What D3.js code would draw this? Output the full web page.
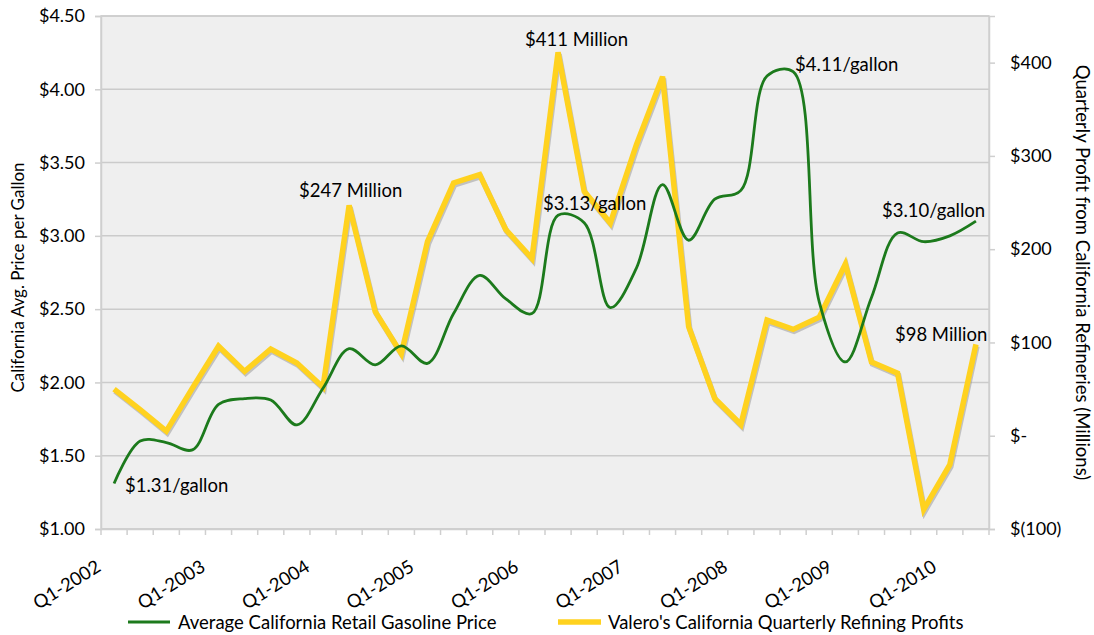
<!DOCTYPE html>
<html>
<head>
<meta charset="utf-8">
<script src="https://cdn.jsdelivr.net/npm/d3@7"></script>
<style>
  body { margin: 0; background: #fff; }
  text { font-family: Lato, "Open Sans", sans-serif; fill: #000; }
</style>
</head>
<body>
<svg id="chart" width="1094" height="635"></svg>
<script>
// quarterly categories
const quarters = [
  "Q1-2002","Q2-2002","Q3-2002","Q4-2002",
  "Q1-2003","Q2-2003","Q3-2003","Q4-2003",
  "Q1-2004","Q2-2004","Q3-2004","Q4-2004",
  "Q1-2005","Q2-2005","Q3-2005","Q4-2005",
  "Q1-2006","Q2-2006","Q3-2006","Q4-2006",
  "Q1-2007","Q2-2007","Q3-2007","Q4-2007",
  "Q1-2008","Q2-2008","Q3-2008","Q4-2008",
  "Q1-2009","Q2-2009","Q3-2009","Q4-2009",
  "Q1-2010","Q2-2010"
];

// average CA retail gasoline price ($/gal)
const gasPrice = [
  1.31, 1.60, 1.59, 1.54,
  1.85, 1.89, 1.88, 1.71,
  1.96, 2.23, 2.12, 2.25,
  2.13, 2.47, 2.73, 2.57,
  2.47, 3.14, 3.09, 2.51,
  2.78, 3.35, 2.97, 3.25,
  3.31, 4.09, 4.12, 2.55,
  2.14, 2.58, 3.02, 2.96,
  3.00, 3.10
];

// Valero CA quarterly refining profits ($ millions)
const valeroProfit = [
  50, 28, 5, 51,
  96, 69, 93, 78,
  52, 247, 133, 88,
  208, 271, 280, 221,
  190, 411, 262, 228,
  312, 385, 117, 40,
  12, 124, 114, 127,
  184, 79, 67, -79,
  -31, 98
];

const leftTicks = [1.0, 1.5, 2.0, 2.5, 3.0, 3.5, 4.0, 4.5];
const rightTicks = [-100, 0, 100, 200, 300, 400];
const xLabelEvery = 4;

const callouts = [
  { text: "$1.31/gallon", series: "gas", i: 0, dx: 11, dy: 8 },
  { text: "$247 Million", series: "profit", i: 9, dx: -50, dy: -8 },
  { text: "$411 Million", series: "profit", i: 17, dx: -33, dy: -6 },
  { text: "$3.13/gallon", series: "gas", i: 17, dx: -15, dy: -5 },
  { text: "$4.11/gallon", series: "gas", i: 26, dx: 2, dy: -1 },
  { text: "$3.10/gallon", series: "gas", i: 33, dx: -94, dy: -4 },
  { text: "$98 Million", series: "profit", i: 33, dx: -81, dy: -3 }
];

const svg = d3.select("#chart");
const plot = { left: 101, right: 989, top: 16, bottom: 529 };
const fs = 18.5;

const x = d3.scaleBand().domain(quarters).range([plot.left, plot.right]).padding(0);
const cx = q => x(q) + x.bandwidth() / 2;
const yL = d3.scaleLinear().domain([1, 4.5]).range([plot.bottom, plot.top]);
const yR = d3.scaleLinear().domain([-100, 450]).range([plot.bottom, plot.top]);

// plot background
svg.append("rect")
  .attr("x", plot.left).attr("y", plot.top)
  .attr("width", plot.right - plot.left).attr("height", plot.bottom - plot.top)
  .attr("fill", "#efefef").attr("stroke", "#d2d2d2").attr("stroke-width", 1.5);

// gridlines
svg.append("g").selectAll("line").data(leftTicks).join("line")
  .attr("x1", plot.left).attr("x2", plot.right)
  .attr("y1", d => yL(d)).attr("y2", d => yL(d))
  .attr("stroke", "#cbcbcb").attr("stroke-width", 1.5);

// left axis
const leftAxis = svg.append("g")
  .attr("transform", `translate(${plot.left},0)`)
  .call(d3.axisLeft(yL).tickValues(leftTicks).tickFormat(d => "$" + d.toFixed(2)).tickSize(6).tickPadding(10));
leftAxis.selectAll("text").attr("font-size", 18);

// right axis
const fmtRight = d => d === 0 ? "$-" : d < 0 ? "$(" + Math.abs(d) + ")" : "$" + d;
const rightAxis = svg.append("g")
  .attr("transform", `translate(${plot.right},0)`)
  .call(d3.axisRight(yR).tickValues(rightTicks).tickFormat(fmtRight).tickSize(6).tickPadding(15));
rightAxis.selectAll("text").attr("font-size", 18);

// bottom axis: ticks at category boundaries
const bottomAxis = svg.append("g")
  .attr("transform", `translate(0,${plot.bottom})`)
  .call(d3.axisBottom(x).tickSize(0).tickFormat(""));
bottomAxis.append("g").selectAll("line")
  .data(quarters.concat(["end"])).join("line")
  .attr("x1", (d, i) => plot.left + i * x.bandwidth())
  .attr("x2", (d, i) => plot.left + i * x.bandwidth())
  .attr("y1", 0).attr("y2", 6);
[leftAxis, rightAxis, bottomAxis].forEach(g => {
  g.selectAll(".domain").attr("stroke", "#cfcfcf").attr("stroke-width", 1.5);
  g.selectAll("line").attr("stroke", "#cfcfcf").attr("stroke-width", 1.5);
});

svg.append("g").selectAll("text")
  .data(quarters.filter((q, i) => i % xLabelEvery === 0)).join("text")
  .attr("transform", q => `translate(${cx(q) - 12},${plot.bottom + 41}) rotate(-32)`)
  .attr("text-anchor", "end")
  .attr("font-size", fs)
  .text(q => q);

// axis titles
svg.append("text")
  .attr("transform", `translate(24,${(plot.top + plot.bottom) / 2 + 5}) rotate(-90)`)
  .attr("text-anchor", "middle").attr("font-size", 17)
  .text("California Avg. Price per Gallon");
svg.append("text")
  .attr("transform", `translate(1076,${(plot.top + plot.bottom) / 2}) rotate(90)`)
  .attr("text-anchor", "middle").attr("font-size", fs)
  .text("Quarterly Profit from California Refineries (Millions)");

// Valero profits: straight line with a soft shadow
const profitLine = d3.line().x((d, i) => cx(quarters[i])).y(d => yR(d));
svg.append("path").datum(valeroProfit)
  .attr("d", profitLine)
  .attr("transform", "translate(1,2)")
  .attr("fill", "none").attr("stroke", "#9a9a9a").attr("stroke-opacity", 0.55)
  .attr("stroke-width", 5.5).attr("stroke-linejoin", "miter");
svg.append("path").datum(valeroProfit)
  .attr("d", profitLine)
  .attr("fill", "none").attr("stroke", "#ffd21f")
  .attr("stroke-width", 5.5).attr("stroke-linejoin", "miter");

// gas price: smoothed line
const gasLine = d3.line().x((d, i) => cx(quarters[i])).y(d => yL(d)).curve(d3.curveCatmullRom.alpha(0.5));
svg.append("path").datum(gasPrice)
  .attr("d", gasLine)
  .attr("fill", "none").attr("stroke", "#1c7a1c").attr("stroke-width", 2.8);

// data callouts
svg.append("g").selectAll("text").data(callouts).join("text")
  .attr("x", d => cx(quarters[d.i]) + d.dx)
  .attr("y", d => (d.series === "gas" ? yL(gasPrice[d.i]) : yR(valeroProfit[d.i])) + d.dy)
  .attr("font-size", fs)
  .text(d => d.text);

// legend
const legend = svg.append("g").attr("transform", "translate(0,622)");
legend.append("line").attr("x1", 128).attr("x2", 170).attr("y1", 0).attr("y2", 0)
  .attr("stroke", "#1c7a1c").attr("stroke-width", 3);
legend.append("text").attr("x", 178).attr("y", 7).attr("font-size", fs)
  .text("Average California Retail Gasoline Price");
legend.append("line").attr("x1", 558).attr("x2", 601).attr("y1", 0).attr("y2", 0)
  .attr("stroke", "#ffd21f").attr("stroke-width", 5.5);
legend.append("text").attr("x", 608).attr("y", 7).attr("font-size", fs)
  .text("Valero's California Quarterly Refining Profits");
</script>
</body>
</html>
